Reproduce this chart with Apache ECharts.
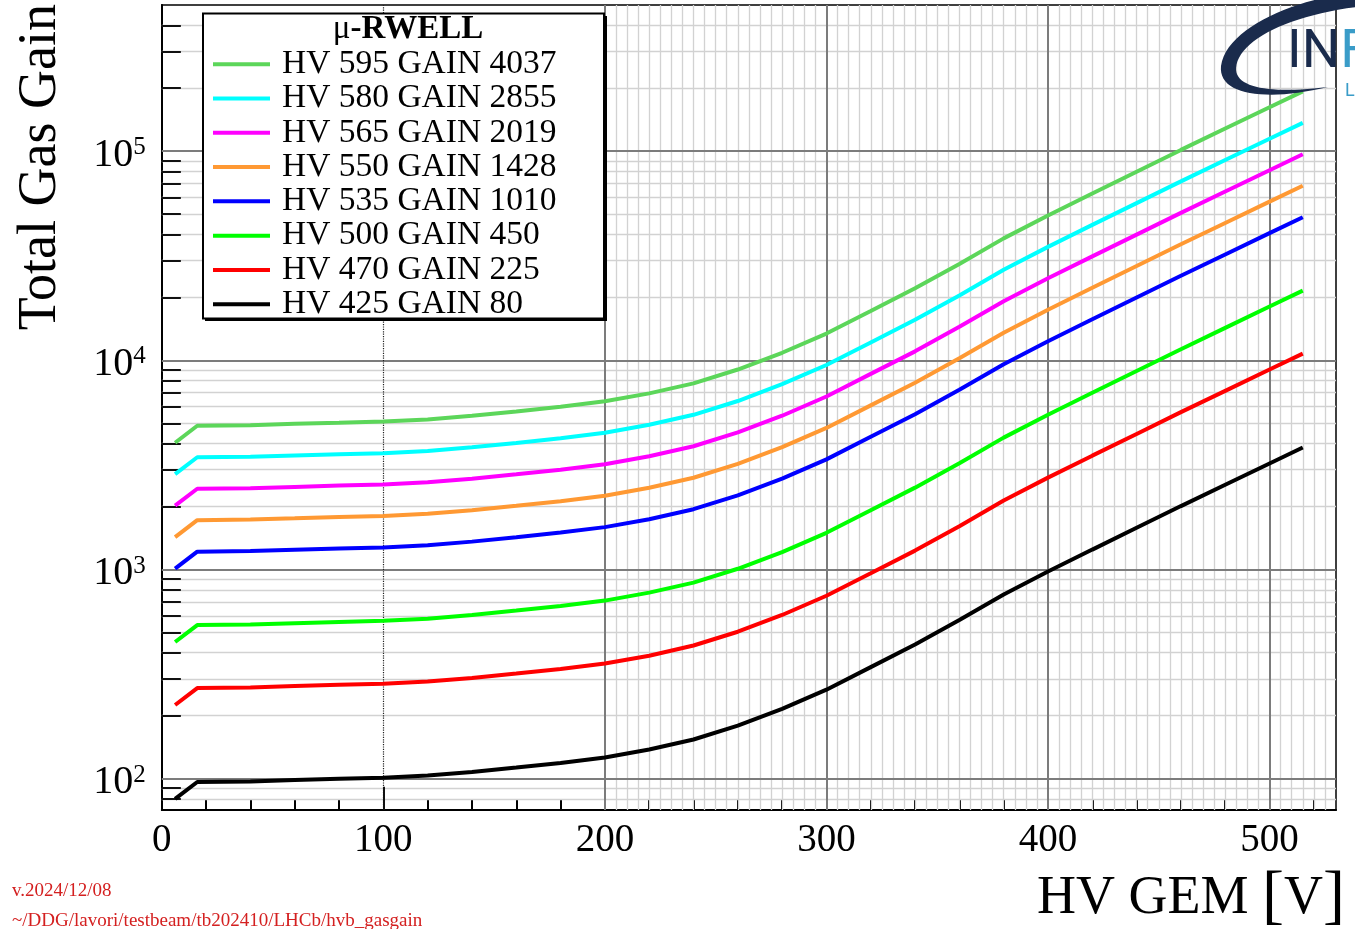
<!DOCTYPE html>
<html>
<head>
<meta charset="utf-8">
<script src="https://cdn.jsdelivr.net/npm/echarts@6/dist/echarts.min.js"></script>
<style>
html,body{margin:0;padding:0;background:#fff;}
#chart{width:1355px;height:929px;}
</style>
</head>
<body>
<div id="chart"></div>
<script>
// HV applied to the GEM stage (x axis)
const hvGem = [6, 16, 40, 60, 80, 100, 120, 140, 160, 180, 200, 220, 240, 260, 280, 300, 320, 340, 360, 380, 400, 420, 440, 460, 480, 500, 515];

// Total gas gain for each micro-RWELL working point
const gain595 = [4037, 4865, 4900, 4970, 5030, 5100, 5220, 5430, 5700, 6000, 6370, 6950, 7760, 9040, 10870, 13430, 17200, 22100, 28900, 38300, 49300, 62800, 79800, 101400, 128300, 162200, 193200];
const gain580 = [2855, 3440, 3460, 3510, 3560, 3600, 3690, 3840, 4030, 4240, 4510, 4920, 5490, 6390, 7690, 9500, 12180, 15620, 20440, 27080, 34880, 44420, 56440, 71710, 90700, 114700, 136600];
const gain565 = [2019, 2433, 2449, 2483, 2518, 2548, 2613, 2718, 2853, 3000, 3186, 3477, 3883, 4521, 5435, 6717, 8613, 11040, 14460, 19150, 24670, 31420, 39920, 50720, 64140, 81120, 96640];
const gain550 = [1428, 1721, 1732, 1756, 1781, 1802, 1848, 1922, 2018, 2122, 2253, 2459, 2746, 3197, 3844, 4751, 6092, 7811, 10230, 13540, 17450, 22220, 28230, 35870, 45370, 57380, 68350];
const gain535 = [1010, 1217, 1225, 1242, 1259, 1275, 1307, 1359, 1427, 1501, 1594, 1739, 1942, 2261, 2719, 3360, 4309, 5525, 7230, 9580, 12340, 15720, 19970, 25370, 32090, 40580, 48340];
const gain500 = [450, 542, 546, 554, 561, 568, 582, 606, 636, 669, 710, 775, 865, 1008, 1211, 1497, 1920, 2462, 3220, 4270, 5498, 7002, 8897, 11300, 14300, 18080, 21540];
const gain470 = [225, 271, 273, 277, 281, 284, 291, 303, 318, 334, 355, 387, 433, 504, 606, 749, 960, 1231, 1610, 2135, 2749, 3501, 4448, 5652, 7148, 9040, 10770];
const gain425 = [80, 96.4, 97.0, 98.4, 99.8, 101, 103.5, 107.7, 113, 118.9, 126.2, 137.8, 153.8, 179.1, 215.4, 266.2, 341.3, 437.6, 573, 759, 977.4, 1245, 1582, 2010, 2542, 3214, 3829];

const seriesNames = ['HV 595 GAIN 4037', 'HV 580 GAIN 2855', 'HV 565 GAIN 2019', 'HV 550 GAIN 1428',
                     'HV 535 GAIN 1010', 'HV 500 GAIN 450', 'HV 470 GAIN 225', 'HV 425 GAIN 80'];
const seriesValues = [gain595, gain580, gain565, gain550, gain535, gain500, gain470, gain425];
const seriesColors = ['#5cd65a', '#00ffff', '#ff00ff', '#ff9933', '#0000ff', '#00ff00', '#ff0000', '#000000'];

// axis ranges and tick labels
const xMin = 0, xMax = 530;
const yMin = 70.8, yMax = 500000;
const xTickLabels = [0, 100, 200, 300, 400, 500];

const SERIF = '"Liberation Serif", "Times New Roman", serif';
const SANS = 'Roboto, "Liberation Sans", sans-serif';

// ---- grid lines and ticks drawn as mark lines ----
const light = { color: '#d2d2d2', width: 1.3, type: 'solid' };
const dark = { color: '#7c7c7c', width: 2, type: 'solid' };
const tickStyle = { color: '#111', width: 2, type: 'solid' };
const gridMarks = [];
// fine vertical grid every 5 V above 200 V
for (let v = 205; v < xMax; v += 5) {
  if (v % 100 !== 0) gridMarks.push({ xAxis: v, lineStyle: light });
}
// log minor horizontal grid
const yMinor = [];
for (let e = 1; e <= 5; e++) {
  for (let m = 2; m <= 9; m++) {
    const v = m * Math.pow(10, e);
    if (v > yMin && v < yMax) yMinor.push(v);
  }
}
yMinor.forEach(v => gridMarks.push({ yAxis: v, lineStyle: light }));
// decade lines and major vertical lines
[100, 1000, 10000, 100000].forEach(v => gridMarks.push({ yAxis: v, lineStyle: dark }));
[200, 300, 400, 500].forEach(v => gridMarks.push({ xAxis: v, lineStyle: dark }));
// dotted line at 100 V
gridMarks.push({ xAxis: 100, lineStyle: { color: '#222', width: 1.2, type: 'dotted' } });
// minor ticks on the log axis
yMinor.forEach(v => gridMarks.push([{ coord: [xMin, v], lineStyle: tickStyle }, { coord: [xMin + 8.6, v] }]));
// long tick at 100 V
gridMarks.push([{ coord: [100, yMin], lineStyle: tickStyle }, { coord: [100, yMin * 1.29] }]);

const series = [{
  type: 'line',
  name: '__grid',
  data: [],
  silent: true,
  z: 1,
  markLine: {
    silent: true,
    z: 1,
    animation: false,
    symbol: ['none', 'none'],
    label: { show: false },
    emphasis: { disabled: true },
    data: gridMarks
  }
}];

seriesNames.forEach((name, i) => {
  series.push({
    type: 'line',
    name: name,
    data: hvGem.map((x, k) => [x, seriesValues[i][k]]),
    showSymbol: false,
    symbol: 'none',
    smooth: false,
    z: 10,
    color: seriesColors[i],
    itemStyle: { color: seriesColors[i] },
    lineStyle: { color: seriesColors[i], width: 4 },
    emphasis: { disabled: true }
  });
});

// logo swoosh outline, sampled from cubic segments
function cubic(p0, p1, p2, p3, n) {
  const pts = [];
  for (let i = 0; i <= n; i++) {
    const t = i / n, u = 1 - t;
    pts.push([
      u * u * u * p0[0] + 3 * u * u * t * p1[0] + 3 * u * t * t * p2[0] + t * t * t * p3[0],
      u * u * u * p0[1] + 3 * u * u * t * p1[1] + 3 * u * t * t * p2[1] + t * t * t * p3[1]
    ]);
  }
  return pts;
}
const swoosh = [].concat(
  cubic([1360, -8], [1300, -3], [1226, 27], [1221, 66], 24),
  cubic([1221, 66], [1218, 95], [1265, 102], [1328, 87], 24),
  cubic([1328, 87], [1270, 94], [1235, 88], [1236, 68], 24),
  cubic([1236, 68], [1238, 40], [1290, 14], [1365, 6], 24)
);

const chart = echarts.init(document.getElementById('chart'), null, { renderer: 'canvas' });

chart.setOption({
  animation: false,
  backgroundColor: '#ffffff',
  grid: {
    left: 161.8, right: 19, top: 5, bottom: 119,
    show: true, borderColor: '#000', borderWidth: 1.5, backgroundColor: 'transparent'
  },
  xAxis: {
    type: 'value',
    min: xMin, max: xMax, interval: 20,
    axisLine: { show: true, onZero: false, lineStyle: { color: '#000', width: 2 } },
    axisTick: { show: true, inside: true, length: 11, lineStyle: { color: '#000', width: 2 } },
    axisLabel: {
      fontFamily: SERIF, fontSize: 39, color: '#000', margin: 11,
      showMaxLabel: false,
      formatter: v => (xTickLabels.indexOf(v) >= 0 ? String(v) : '')
    },
    splitLine: { show: false }
  },
  yAxis: {
    type: 'log', logBase: 10,
    min: yMin, max: yMax,
    axisLine: { show: true, onZero: false, lineStyle: { color: '#000', width: 2 } },
    axisTick: { show: false },
    axisLabel: {
      margin: 16,
      padding: [8, 0, 0, 0],
      showMinLabel: false, showMaxLabel: false,
      formatter: v => {
        const l = Math.log10(v);
        const e = Math.round(l);
        return Math.abs(l - e) < 1e-6 ? '{a|10}{b|' + e + '}' : '';
      },
      rich: {
        a: { fontFamily: SERIF, fontSize: 40, color: '#000', lineHeight: 40 },
        b: { fontFamily: SERIF, fontSize: 25, color: '#000', verticalAlign: 'top', lineHeight: 25 }
      }
    },
    splitLine: { show: false }
  },
  legend: {
    data: seriesNames,
    orient: 'vertical',
    left: 213, top: 47,
    padding: 0,
    itemGap: 0,
    itemWidth: 57, itemHeight: 4,
    icon: 'rect',
    selectedMode: false,
    z: 120,
    textStyle: {
      fontFamily: SERIF, fontSize: 33.5, color: '#000',
      lineHeight: 29.3, padding: [0, 0, 5, 7]
    }
  },
  graphic: [
    // legend frame with shadow
    { type: 'rect', z: 100, shape: { x: 205, y: 16, width: 402, height: 305 }, style: { fill: '#000' } },
    { type: 'rect', z: 101, shape: { x: 203, y: 13.5, width: 401, height: 305 }, style: { fill: '#fff', stroke: '#000', lineWidth: 2 } },
    {
      type: 'text', z: 121, x: 408, y: 29,
      style: {
        text: '{m|\u03bc}{r|-RWELL}',
        align: 'center', verticalAlign: 'middle',
        rich: {
          m: { fontFamily: SERIF, fontSize: 33, fill: '#000', verticalAlign: 'middle' },
          r: { fontFamily: SERIF, fontSize: 33, fontWeight: 'bold', fill: '#000', verticalAlign: 'middle' }
        }
      }
    },
    // axis titles
    {
      type: 'text', z: 50, x: 41, y: 4, rotation: Math.PI / 2,
      style: { text: 'Total Gas Gain', fontFamily: SERIF, fontSize: 54, fill: '#000', align: 'right', verticalAlign: 'middle' }
    },
    {
      type: 'text', z: 50, x: 1345, y: 899,
      style: {
        text: '{a|HV GEM }{b|[}{a|V}{b|]}',
        align: 'right', verticalAlign: 'middle',
        rich: {
          a: { fontFamily: SERIF, fontSize: 54, fill: '#000', verticalAlign: 'middle' },
          b: { fontFamily: SERIF, fontSize: 66, fill: '#000', verticalAlign: 'middle' }
        }
      }
    },
    // footer notes
    { type: 'text', z: 50, x: 12, y: 891, style: { text: 'v.2024/12/08', fontFamily: SERIF, fontSize: 19, fill: '#d42020', verticalAlign: 'middle' } },
    { type: 'text', z: 50, x: 12, y: 921, style: { text: '~/DDG/lavori/testbeam/tb202410/LHCb/hvb_gasgain', fontFamily: SERIF, fontSize: 19, fill: '#d42020', verticalAlign: 'middle' } },
    // INFN logo
    { type: 'polygon', z: 130, shape: { points: swoosh }, style: { fill: '#1a2b4c' } },
    {
      type: 'text', z: 131, x: 1287, y: 53,
      style: {
        text: '{n|IN}{f|FN}', verticalAlign: 'middle',
        rich: {
          n: { fontFamily: SANS, fontSize: 54, fill: '#1a2b4c' },
          f: { fontFamily: SANS, fontSize: 54, fill: '#3a9cc8' }
        }
      }
    },
    { type: 'text', z: 131, x: 1345, y: 91, style: { text: 'LNF', fontFamily: SANS, fontSize: 18, fill: '#3a9cc8', verticalAlign: 'middle' } }
  ],
  series: series
});
</script>
</body>
</html>
